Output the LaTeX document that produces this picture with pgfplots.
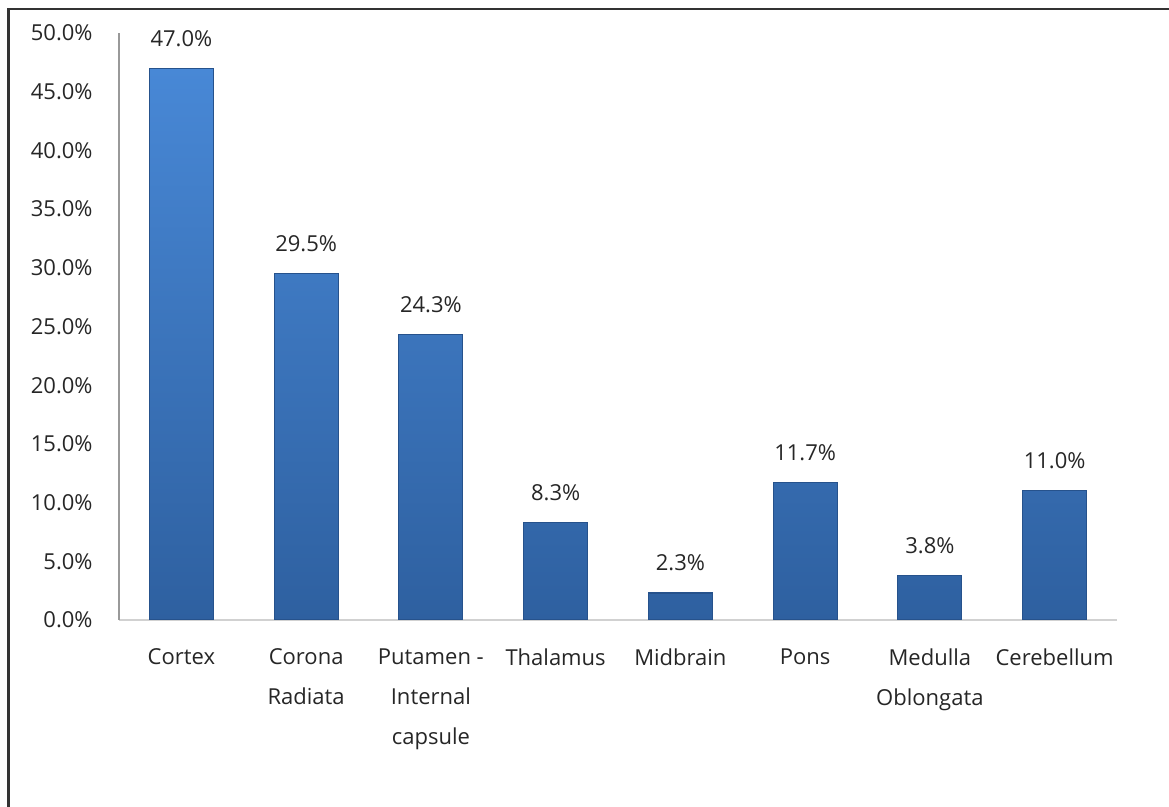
\documentclass[border=0pt]{standalone}
\usepackage{fontspec}
\setmainfont{Open Sans}
\usepackage{pgfplots}
\pgfplotsset{compat=1.18}
\definecolor{bartop}{RGB}{72,136,214}
\definecolor{barmid}{RGB}{62,122,198}
\definecolor{barbot}{RGB}{46,96,160}
\definecolor{baredge}{RGB}{38,82,140}
\definecolor{txt}{RGB}{38,38,38}

\begin{document}
\begin{tikzpicture}
\useasboundingbox (0,0) rectangle (584.5pt,403.5pt);
\draw[line width=1.2pt, black!80] (4.2pt,-2pt) -- (4.2pt,399pt) -- (587pt,399pt);
\begin{axis}[
    at={(59.5pt,93.5pt)}, anchor=south west,
    scale only axis, width=499pt, height=293.5pt,
    xmin=-0.5, xmax=7.5, ymin=0, ymax=50,
    axis x line*=bottom, axis y line*=left,
    x axis line style={draw=black!18, line width=0.8pt},
    y axis line style={draw=black!40, line width=0.8pt},
    major tick length=0pt,
    font=\fontsize{11}{20}\selectfont,
    tick label style={text=txt, inner sep=0pt},
    /pgf/number format/assume math mode=true,
    ytick={0,5,...,50},
    yticklabel={\pgfmathprintnumber[fixed,fixed zerofill,precision=1]{\tick}\%},
    yticklabel style={anchor=east, xshift=-13pt},
    xtick={0,...,7},
    xticklabels={Cortex, Corona\\Radiata, Putamen -\\Internal\\capsule, Thalamus, Midbrain, Pons, Medulla\\Oblongata, Cerebellum},
    xticklabel style={anchor=north, yshift=-14pt, align=center},
    ybar, bar width=32pt, bar shift=0pt,
    nodes near coords={\pgfmathprintnumber[fixed,fixed zerofill,precision=1]{\pgfplotspointmeta}\%},
    every node near coord/.append style={anchor=base, yshift=11pt, inner sep=0pt, text=txt, font=\fontsize{11}{13}\selectfont},
]
\addplot[draw=baredge, line width=0.6pt, top color=bartop, middle color=barmid, bottom color=barbot]
    coordinates {(0,47.0) (1,29.5) (2,24.3) (3,8.3) (4,2.3) (5,11.7) (6,3.8) (7,11.0)};
\end{axis}
\end{tikzpicture}
\end{document}
